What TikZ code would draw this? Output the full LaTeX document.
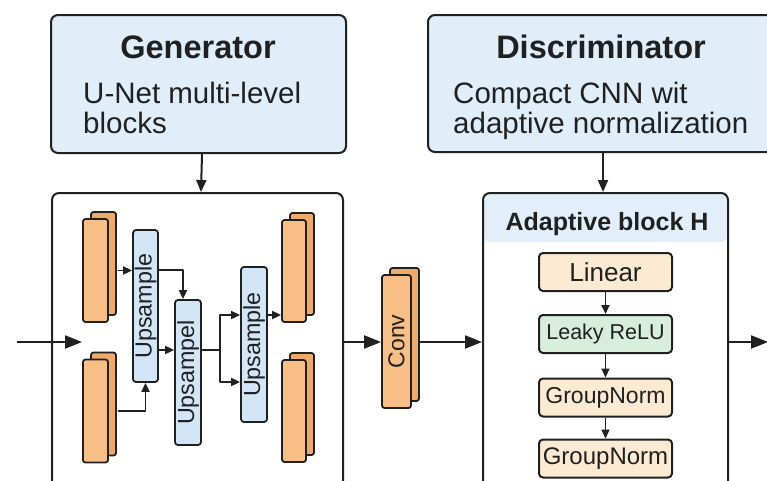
\documentclass[tikz,border=0pt]{standalone}
\usepackage{fontspec}
\setmainfont{Liberation Sans}
\usepackage{graphicx}
\usetikzlibrary{arrows.meta,shadows,calc}
\definecolor{topblue}{HTML}{E0EEFA}
\definecolor{upblue}{HTML}{D2E6F8}
\definecolor{orF}{HTML}{F7BF86}
\definecolor{orD}{HTML}{EEAA68}
\definecolor{beige}{HTML}{FDEAD2}
\definecolor{mint}{HTML}{D6EEDB}
\definecolor{hdr}{HTML}{E2EFFA}
\definecolor{ink}{HTML}{202020}
\newcommand{\fs}[1]{\fontsize{#1}{#1}\selectfont}
\begin{document}
\begin{tikzpicture}[x=1pt,y=-1pt,line join=round,
  topbox/.style={draw=ink,fill=topblue,rounded corners=7pt,line width=2pt,inner sep=0pt},
  bigbox/.style={draw=ink,fill=white,rounded corners=7pt,line width=2pt,inner sep=0pt},
  slab/.style={draw=ink,fill=orF,rounded corners=2.5pt,line width=1.8pt,inner sep=0pt,
     copy shadow={shadow xshift=8pt,shadow yshift=7pt,fill=orD,draw=ink,line width=1.8pt}},
  upbox/.style={draw=ink,fill=upblue,rounded corners=3pt,line width=1.8pt,inner sep=0pt,minimum width=25pt,text=ink},
  layer/.style={draw=ink,rounded corners=4pt,line width=2pt,inner sep=0pt,minimum width=133pt,minimum height=38pt,text=ink},
  txt/.style={inner sep=0pt,text=ink},
  barr/.style={draw=ink,line width=2pt,-{Triangle[length=17pt,width=13pt]}},
  arr/.style={draw=ink,line width=2pt,-{Triangle[length=12pt,width=10pt]}},
  sarr/.style={draw=ink,line width=1.8pt,-{Triangle[length=9pt,width=8pt]}}]
\useasboundingbox (0,0) rectangle (767,480);
\clip (0,0) rectangle (767,480);
\fill[white] (0,0) rectangle (767,480);

% top boxes
\node[topbox,minimum width=295pt,minimum height=138pt] (gen) at (198.5,84) {};
\node[txt,anchor=base,font=\fs{32.5}\bfseries] (gent) at (198,58) {Generator};
\node[txt,anchor=base west,font=\fs{29.5}] (genb1) at (83,103) {U-Net\ multi-level};
\node[txt,anchor=base west,font=\fs{29.5}] (genb2) at (83,133) {blocks};

\node[topbox,minimum width=362pt,minimum height=137pt] (dis) at (609,83.5) {};
\node[txt,anchor=base,font=\fs{32.5}\bfseries] (dist) at (601,58) {Discriminator};
\node[txt,anchor=base west,font=\fs{29.5}] (disb1) at (453,103) {Compact CNN wit};
\node[txt,anchor=base west,font=\fs{29.5}] (disb2) at (453,133) {adaptive normalization};

% lower containers
\node[bigbox,minimum width=291pt,minimum height=302pt] (genin) at (197.5,344) {};
\node[bigbox,minimum width=245pt,minimum height=302pt,
  path picture={\fill[hdr] (path picture bounding box.north west) rectangle ([yshift=-49pt]path picture bounding box.north east);}] (disin) at (605.5,344) {};
\node[txt,anchor=base,font=\fs{25}\bfseries] (hdrt) at (607,230) {Adaptive block H};

\draw[arr] ([xshift=3.5pt]gen.south) -- ([xshift=3.5pt]genin.north);
\draw[arr] ([xshift=-6pt]dis.south) -- ([xshift=-6pt]dis.south |- disin.north);

% helper rows
\coordinate (y270) at (0,270);
\coordinate (y315) at (0,315);
\coordinate (y342) at (0,342);
\coordinate (y350) at (0,350);
\coordinate (y382) at (0,382);

% feature slabs
\node[slab,minimum width=25pt,minimum height=103pt] (lt) at (95.5,270.5) {};
\node[slab,minimum width=25pt,minimum height=103pt] (lb) at (95.5,411) {};
\node[slab,minimum width=24pt,minimum height=102pt] (rt) at (294,271) {};
\node[slab,minimum width=24pt,minimum height=102pt] (rb) at (294,411) {};

% upsample blocks
\node[upbox,minimum height=152pt] (U1) at (145.5,306) {\fs{23.3}\rotatebox{90}{Upsample}};
\node[upbox,minimum width=26pt,minimum height=145pt] (U2) at (188,372.5) {\fs{23.3}\rotatebox{90}{Upsampel}};
\node[upbox,minimum width=26pt,minimum height=155pt] (U3) at (254,344.5) {\fs{23.3}\rotatebox{90}{Upsample}};

% input arrow
\coordinate (inA) at (17,342);
\coordinate (inB) at (82,342);
\draw[barr] (inA) -- (inB);

% generator inner connectors
\draw[sarr] ([xshift=9pt]lt.east) -- (lt.east -| U1.west);
\draw[sarr] ([xshift=9pt]lb.east) -| (U1.south);
\draw[sarr] (U1.east |- y270) -| ([xshift=-5pt]U2.north);
\draw[sarr] (U1.east |- y350) -- (U2.west |- y350);
\coordinate (br) at (220,350);
\draw[draw=ink,line width=1.8pt] (U2.east |- y350) -- (br);
\draw[sarr] (br) |- (U3.west |- y315);
\draw[sarr] (br) |- (U3.west |- y382);
\draw[sarr] (U3.east |- y315) -- (rt.west |- y315);

% conv
\node[slab,minimum width=29pt,minimum height=133pt,text=ink] (conv) at (396.5,341.5) {\fs{23}\rotatebox{90}{Conv}};
\draw[barr] (genin.east |- y342) -- (conv.west |- y342);
\draw[barr] ([xshift=8pt]conv.east |- y342) -- (disin.west |- y342);
\coordinate (outB) at (768,342);
\draw[barr] (disin.east |- y342) -- (outB);

% discriminator layers
\node[layer,fill=beige,font=\fs{26}] (lin) at (605.5,272) {Linear};
\node[layer,fill=mint,font=\fs{21.5}] (leaky) at (605.5,334) {Leaky ReLU};
\node[layer,fill=beige,font=\fs{23}] (gn1) at (605.5,397.5) {GroupNorm};
\node[layer,fill=beige,font=\fs{24}] (gn2) at (605.5,458.5) {GroupNorm};
\draw[sarr] (lin) -- (leaky);
\draw[sarr] (leaky) -- (gn1);
\draw[sarr] (gn1) -- (gn2);
\end{tikzpicture}
\end{document}
